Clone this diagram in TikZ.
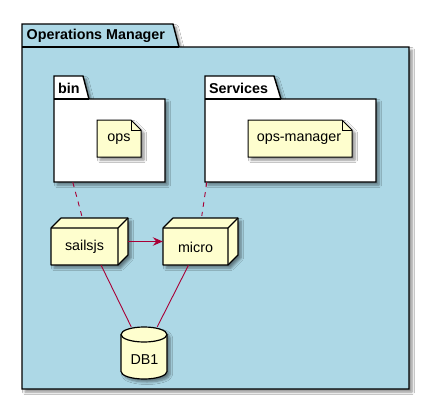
\documentclass[tikz,border=0pt]{standalone}
\usepackage{fontspec}
\setmainfont{Liberation Sans}
\usetikzlibrary{arrows.meta,shadows.blur,calc}
\definecolor{pkgbg}{HTML}{ADD8E6}
\definecolor{notebg}{HTML}{FEFECE}
\definecolor{linkc}{HTML}{A80036}
\tikzset{
  shad/.style={blur shadow={shadow xshift=3pt,shadow yshift=-3pt,shadow blur radius=2.5pt,shadow blur steps=6,shadow opacity=45}},
  pkgline/.style={draw=black,line width=1.4pt},
  elline/.style={draw=black,line width=1.2pt},
  pkglabel/.style={anchor=west,inner sep=0pt,font=\bfseries\fontsize{14.3}{16}\selectfont},
  eltext/.style={inner sep=0pt,font=\fontsize{14.3}{16}\selectfont},
  area/.style={inner sep=0pt,draw=none},
  link/.style={draw=linkc,line width=0.9pt},
  dlink/.style={link,dash pattern=on 5pt off 5pt},
}
\begin{document}
\begin{tikzpicture}[x=1pt,y=-1pt]
\useasboundingbox[fill=white] (0,0) rectangle (429,400);
% outer package
\path[shad,fill=pkgbg,pkgline,line join=miter] (22,24) -- (173,24) -- (179,47) -- (409,47) -- (409,389) -- (22,389) -- cycle;
\draw[pkgline] (22,47) -- (179,47);
\node[pkglabel] (opmlabel) at (26.5,36) {Operations Manager};
% bin package
\path[shad,fill=white,pkgline] (54,76) -- (83,76) -- (89,99) -- (165,99) -- (165,182) -- (54,182) -- cycle;
\draw[pkgline] (54,99) -- (89,99);
\node[pkglabel] (binlabel) at (58,88) {bin};
\node[area,minimum width=111pt,minimum height=83pt] (bin) at (109.5,140.5) {};
% Services package
\path[shad,fill=white,pkgline] (205,76) -- (274,76) -- (281,99) -- (376,99) -- (376,182) -- (205,182) -- cycle;
\draw[pkgline] (205,99) -- (281,99);
\node[pkglabel] (srvlabel) at (209,88) {Services};
\node[area,minimum width=171pt,minimum height=83pt] (services) at (290.5,140.5) {};
% notes
\path[shad,fill=notebg,elline,line width=1pt] (97,120) -- (131,120) -- (141,130) -- (141,157) -- (97,157) -- cycle;
\draw[elline,line width=1pt] (131,120) -- (131,130) -- (141,130);
\node[eltext] (ops) at (119,139.5) {ops};
\path[shad,fill=notebg,elline,line width=1pt] (248,120) -- (342,120) -- (352,130) -- (352,157) -- (248,157) -- cycle;
\draw[elline,line width=1pt] (342,120) -- (342,130) -- (352,130);
\node[eltext] (opsm) at (299,139.5) {ops-manager};
% sailsjs node
\path[shad,fill=notebg,elline,line join=round] (51,228) -- (61,218) -- (128,218) -- (128,255) -- (118,265) -- (51,265) -- cycle;
\draw[elline,line join=round] (51,228) -- (118,228) -- (128,218) (118,228) -- (118,265);
\node[area,minimum width=77pt,minimum height=47pt] (sails) at (89.5,241.5) {};
\node[eltext] (sailstext) at (84.5,247) {sailsjs};
% micro node
\path[shad,fill=notebg,elline,line join=round] (163,228) -- (173,218) -- (238,218) -- (238,255) -- (228,265) -- (163,265) -- cycle;
\draw[elline,line join=round] (163,228) -- (228,228) -- (238,218) (228,228) -- (228,265);
\node[area,minimum width=75pt,minimum height=47pt] (micro) at (200.5,241.5) {};
\node[eltext] (microtext) at (195.5,247) {micro};
% database
\path[shad,fill=notebg,elline] (121,334.5) -- (121,371.5) arc[start angle=180,end angle=360,x radius=23pt,y radius=7.5pt] -- (167,334.5) arc[start angle=0,end angle=180,x radius=23pt,y radius=7.5pt] -- cycle;
\draw[elline] (121,334.5) arc[start angle=180,end angle=360,x radius=23pt,y radius=7.5pt];
\node[area,minimum width=46pt,minimum height=52pt] (db) at (144,353) {};
\node[eltext] (dbtext) at (144.5,360) {DB1};
% connectors
\draw[dlink] ([xshift=19pt]bin.south west) -- ([xshift=31pt,yshift=2pt]sails.north west);
\draw[dlink] ([xshift=2pt]services.south west) -- ([xshift=39pt,yshift=2pt]micro.north west);
\draw[link,-{Stealth[length=10pt,width=8.5pt,inset=3.5pt]}] (sails) -- (micro);
\draw[link] (sails) -- (db);
\draw[link] (micro) -- (db);
\end{tikzpicture}
\end{document}
